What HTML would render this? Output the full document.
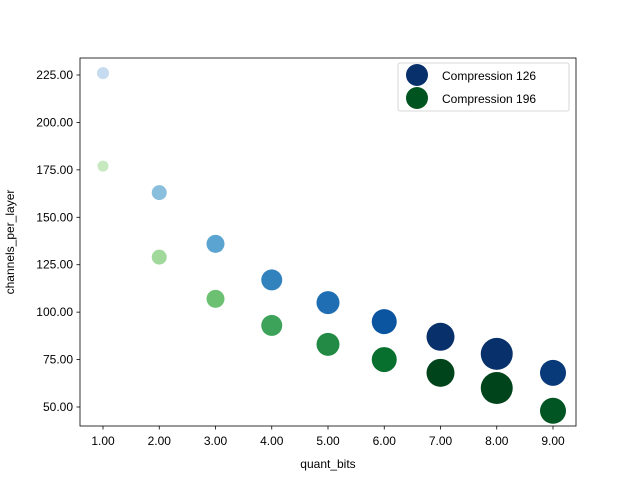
<!DOCTYPE html>
<html><head><meta charset="utf-8"><style>
body{margin:0;background:#fff;}
svg text{font-family:"Liberation Sans","DejaVu Sans",sans-serif;font-size:12px;fill:#000;}
</style></head><body>
<svg id="chart" width="640" height="480"></svg>
<script>
const xValues=[1,2,3,4,5,6,7,8,9];
const blueValues=[226,163,136,117,105,95,87,78,68];
const greenValues=[177,129,107,93,83,75,68,60,48];
const sizes=[6,7.5,9,10.5,11.5,12.5,14,16,13];
const greenSizes=[5.5,7.5,9,10.5,11.5,12.5,14,16,13];
const blueColors=["#c6dbef","#89bedc","#5ba3d0","#3282be","#1f6eb3","#0a54a0","#08306b","#08306b","#083a7a"];
const greenColors=["#c7e9c0","#a0d99b","#6bc072","#3da35a","#228a44","#08702f","#00441b","#00441b","#005522"];
const xTicks=[1,2,3,4,5,6,7,8,9];
const yTicks=[50,75,100,125,150,175,200,225];
const NS="http://www.w3.org/2000/svg";
const svg=document.getElementById('chart');
const L=80,R=576,T=58,B=426;
function xs(v){return 103+(v-1)*56.25;}
function ys(v){return 407-(v-50)*(332/175);}
function mk(tag,attrs,parent){const e=document.createElementNS(NS,tag);for(const k in attrs)e.setAttribute(k,attrs[k]);(parent||svg).appendChild(e);return e;}
const frame=mk('rect',{x:L,y:T,width:R-L,height:B-T,fill:'none',stroke:'#000','stroke-width':0.8});


xTicks.forEach(v=>{
  const x=xs(v);
  mk('line',{x1:x,x2:x,y1:B,y2:B+3.5,stroke:'#000','stroke-width':0.8});
  const t=mk('text',{x:x,y:B+19,'text-anchor':'middle'});t.textContent=v.toFixed(2);
  
  
});
yTicks.forEach(v=>{
  const y=ys(v);
  mk('line',{x1:L-3.5,x2:L,y1:y,y2:y,stroke:'#000','stroke-width':0.8});
  const t=mk('text',{x:L-7,y:y+4,'text-anchor':'end'});t.textContent=v.toFixed(2);
  
  
});
const xt=mk('text',{x:328,y:468,'text-anchor':'middle'});xt.textContent='quant_bits';


const yt=mk('text',{x:0,y:0,'text-anchor':'middle',transform:'translate(14,242) rotate(-90)'});yt.textContent='channels_per_layer';


xValues.forEach((x,i)=>{
  const c=mk('circle',{cx:xs(x),cy:ys(blueValues[i]),r:sizes[i],fill:blueColors[i]});
  
  
  const g=mk('circle',{cx:xs(x),cy:ys(greenValues[i]),r:greenSizes[i],fill:greenColors[i]});
  
  
});
const lg=mk('g',{});


mk('rect',{x:398,y:63,width:171,height:48,rx:2,fill:'#fff',stroke:'#ccc','stroke-width':0.8,'fill-opacity':0.8},lg);
mk('circle',{cx:417,cy:75,r:11,fill:'#08306b'},lg);
mk('circle',{cx:417,cy:98,r:11,fill:'#00541f'},lg);
const l1=mk('text',{x:442,y:80},lg);l1.textContent='Compression 126';


const l2=mk('text',{x:442,y:103},lg);l2.textContent='Compression 196';


</script>
</body></html>
